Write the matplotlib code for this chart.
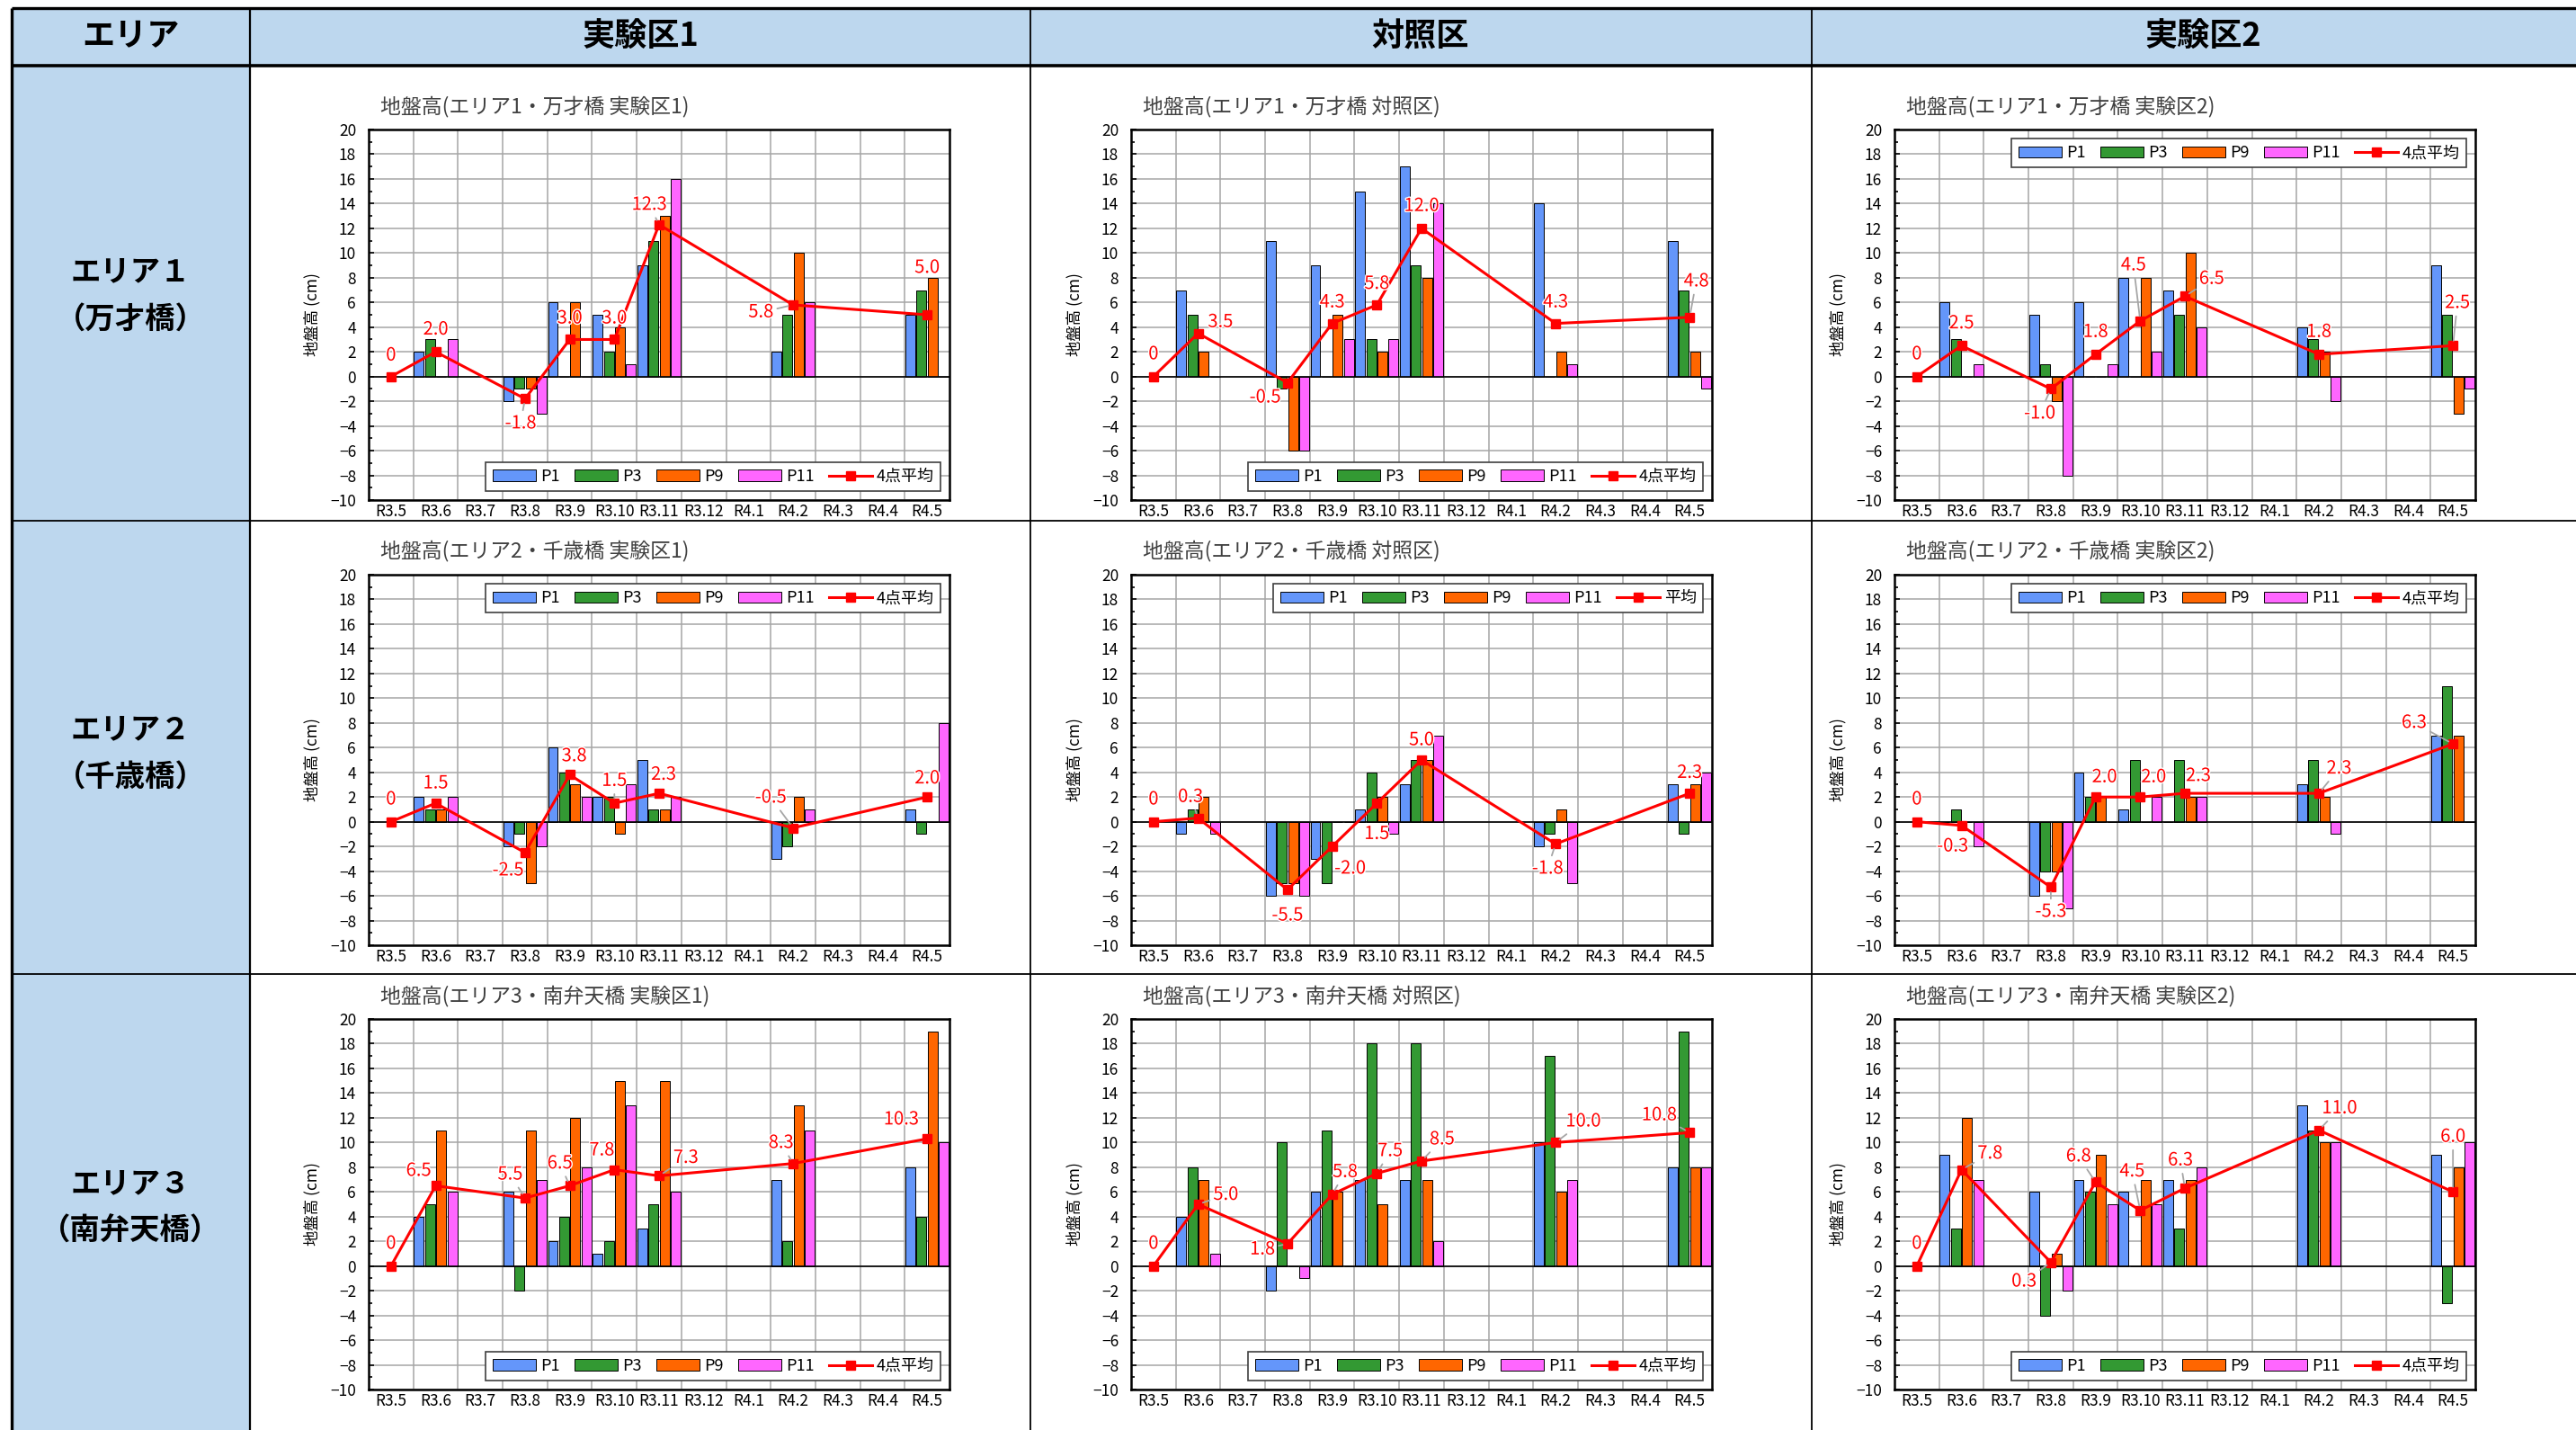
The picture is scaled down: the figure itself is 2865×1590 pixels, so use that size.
import numpy as np
import matplotlib
matplotlib.use("Agg")
import matplotlib.pyplot as plt
import matplotlib.patheffects as pe
from matplotlib.patches import Rectangle
from matplotlib.ticker import MultipleLocator

plt.rcParams['font.family'] = ['Noto Sans CJK JP', 'DejaVu Sans']

N = np.nan

months = ['R3.5', 'R3.6', 'R3.7', 'R3.8', 'R3.9', 'R3.10', 'R3.11',
          'R3.12', 'R4.1', 'R4.2', 'R4.3', 'R4.4', 'R4.5']
points = ['P1', 'P3', 'P9', 'P11']
point_colors = ['#6496FA', '#339933', '#FF6600', '#FF66FF']

areas = ['エリア１', 'エリア２', 'エリア３']
bridges = ['万才橋', '千歳橋', '南弁天橋']
area_short = ['エリア1', 'エリア2', 'エリア3']
plots = ['実験区1', '対照区', '実験区2']

# 地盤高 (cm) : P1, P3, P9, P11 の順
a1_exp1 = [[N, 2, N, -2, 6, 5, 9, N, N, 2, N, N, 5],
           [N, 3, N, -1, 0, 2, 11, N, N, 5, N, N, 7],
           [N, 0, N, -1, 6, 4, 13, N, N, 10, N, N, 8],
           [N, 3, N, -3, 0, 1, 16, N, N, 6, N, N, 0]]
a1_exp1_avg = [0, 2.0, N, -1.8, 3.0, 3.0, 12.3, N, N, 5.8, N, N, 5.0]

a1_ctrl = [[N, 7, N, 11, 9, 15, 17, N, N, 14, N, N, 11],
           [N, 5, N, -1, 0, 3, 9, N, N, 0, N, N, 7],
           [N, 2, N, -6, 5, 2, 8, N, N, 2, N, N, 2],
           [N, 0, N, -6, 3, 3, 14, N, N, 1, N, N, -1]]
a1_ctrl_avg = [0, 3.5, N, -0.5, 4.3, 5.8, 12.0, N, N, 4.3, N, N, 4.8]

a1_exp2 = [[N, 6, N, 5, 6, 8, 7, N, N, 4, N, N, 9],
           [N, 3, N, 1, 0, 0, 5, N, N, 3, N, N, 5],
           [N, 0, N, -2, 0, 8, 10, N, N, 2, N, N, -3],
           [N, 1, N, -8, 1, 2, 4, N, N, -2, N, N, -1]]
a1_exp2_avg = [0, 2.5, N, -1.0, 1.8, 4.5, 6.5, N, N, 1.8, N, N, 2.5]

a2_exp1 = [[N, 2, N, -2, 6, 2, 5, N, N, -3, N, N, 1],
           [N, 1, N, -1, 4, 2, 1, N, N, -2, N, N, -1],
           [N, 1, N, -5, 3, -1, 1, N, N, 2, N, N, 0],
           [N, 2, N, -2, 2, 3, 2, N, N, 1, N, N, 8]]
a2_exp1_avg = [0, 1.5, N, -2.5, 3.8, 1.5, 2.3, N, N, -0.5, N, N, 2.0]

a2_ctrl = [[N, -1, N, -6, -3, 1, 3, N, N, -2, N, N, 3],
           [N, 1, N, -5, -5, 4, 5, N, N, -1, N, N, -1],
           [N, 2, N, -5, 0, 2, 5, N, N, 1, N, N, 3],
           [N, -1, N, -6, 0, -1, 7, N, N, -5, N, N, 4]]
a2_ctrl_avg = [0, 0.3, N, -5.5, -2.0, 1.5, 5.0, N, N, -1.8, N, N, 2.3]

a2_exp2 = [[N, 0, N, -6, 4, 1, 0, N, N, 3, N, N, 7],
           [N, 1, N, -4, 2, 5, 5, N, N, 5, N, N, 11],
           [N, 0, N, -4, 2, 0, 2, N, N, 2, N, N, 7],
           [N, -2, N, -7, 0, 2, 2, N, N, -1, N, N, 0]]
a2_exp2_avg = [0, -0.3, N, -5.3, 2.0, 2.0, 2.3, N, N, 2.3, N, N, 6.3]

a3_exp1 = [[N, 4, N, 6, 2, 1, 3, N, N, 7, N, N, 8],
           [N, 5, N, -2, 4, 2, 5, N, N, 2, N, N, 4],
           [N, 11, N, 11, 12, 15, 15, N, N, 13, N, N, 19],
           [N, 6, N, 7, 8, 13, 6, N, N, 11, N, N, 10]]
a3_exp1_avg = [0, 6.5, N, 5.5, 6.5, 7.8, 7.3, N, N, 8.3, N, N, 10.3]

a3_ctrl = [[N, 4, N, -2, 6, 7, 7, N, N, 10, N, N, 8],
           [N, 8, N, 10, 11, 18, 18, N, N, 17, N, N, 19],
           [N, 7, N, 0, 6, 5, 7, N, N, 6, N, N, 8],
           [N, 1, N, -1, 0, 0, 2, N, N, 7, N, N, 8]]
a3_ctrl_avg = [0, 5.0, N, 1.8, 5.8, 7.5, 8.5, N, N, 10.0, N, N, 10.8]

a3_exp2 = [[N, 9, N, 6, 7, 6, 7, N, N, 13, N, N, 9],
           [N, 3, N, -4, 6, 0, 3, N, N, 11, N, N, -3],
           [N, 12, N, 1, 9, 7, 7, N, N, 10, N, N, 8],
           [N, 7, N, -2, 5, 5, 8, N, N, 10, N, N, 10]]
a3_exp2_avg = [0, 7.8, N, 0.3, 6.8, 4.5, 6.3, N, N, 11.0, N, N, 6.0]

panel_bars = [[a1_exp1, a1_ctrl, a1_exp2],
              [a2_exp1, a2_ctrl, a2_exp2],
              [a3_exp1, a3_ctrl, a3_exp2]]
panel_avgs = [[a1_exp1_avg, a1_ctrl_avg, a1_exp2_avg],
              [a2_exp1_avg, a2_ctrl_avg, a2_exp2_avg],
              [a3_exp1_avg, a3_ctrl_avg, a3_exp2_avg]]
avg_names = [['4点平均', '4点平均', '4点平均'],
             ['4点平均', '平均', '4点平均'],
             ['4点平均', '4点平均', '4点平均']]

# ラベル位置 (横ずれ[区分], 縦ずれ[cm], 引き出し線)
label_pos = [
    [[(0, 1.7, 0), (0, 1.8, 0), (-0.1, -2.0, 1), (0, 1.7, 0), (0, 1.7, 0),
      (-0.22, 1.6, 1), (-0.72, -0.6, 1), (0, 3.8, 0)],
     [(0, 1.8, 0), (0.5, 0.9, 0), (-0.5, -1.2, 0), (0, 1.7, 0), (0, 1.7, 0),
      (0, 1.8, 0), (0, 1.7, 0), (0.15, 2.9, 1)],
     [(0, 1.8, 0), (0, 1.8, 0), (-0.25, -2.0, 1), (0, 1.8, 0), (-0.15, 4.5, 1),
      (0.6, 1.4, 1), (0, 1.8, 0), (0.1, 3.45, 1)]],
    [[(0, 1.8, 0), (0, 1.6, 0), (-0.38, -1.45, 0), (0.1, 1.5, 0), (0, 1.8, 1),
      (0.1, 1.5, 0), (-0.5, 2.45, 1), (0, 1.5, 0)],
     [(0, 1.8, 0), (-0.17, 1.7, 1), (0, -2.1, 0), (0.4, -1.8, 0), (0, -2.5, 0),
      (0, 1.6, 0), (-0.18, -2.0, 1), (0, 1.65, 0)],
     [(0, 1.8, 0), (-0.2, -1.7, 0), (0, -2.0, 1), (0.2, 1.6, 0), (0.3, 1.6, 0),
      (0.3, 1.4, 0), (0.45, 2.0, 1), (-0.87, 1.7, 1)]],
    [[(0, 1.8, 0), (-0.38, 1.2, 0), (-0.33, 1.9, 1), (-0.22, 1.8, 1), (-0.28, 1.56, 0),
      (0.6, 1.45, 1), (-0.27, 1.66, 1), (-0.58, 1.56, 0)],
     [(0, 1.8, 0), (0.62, 0.76, 1), (-0.56, -0.46, 1), (0.29, 1.8, 1), (0.3, 1.8, 1),
      (0.46, 1.75, 1), (0.62, 1.7, 1), (-0.68, 1.4, 1)],
     [(0, 1.8, 0), (0.64, 1.3, 1), (-0.6, -1.56, 1), (-0.38, 2.07, 1), (-0.18, 3.15, 1),
      (-0.1, 2.25, 1), (0.46, 1.76, 1), (0, 4.45, 1)]],
]
legend_locs = [['lower right', 'lower right', 'upper right'],
               ['upper right', 'upper right', 'upper right'],
               ['lower right', 'lower right', 'lower right']]

W, H = 2865, 1590
fig = plt.figure(figsize=(W / 100, H / 100), dpi=100)

# 表の枠
bg = fig.add_axes([0, 0, 1, 1], zorder=0)
bg.set_xlim(0, W)
bg.set_ylim(H, 0)
bg.axis('off')
blue = '#BDD7EE'
col_x = [13, 278, 1146, 2015]
row_y = [9, 73, 579, 1083]
bg.add_patch(Rectangle((13, 9), W - 13, 64, color=blue, lw=0))
bg.add_patch(Rectangle((13, 73), 265, H - 73, color=blue, lw=0))
for x, lw in zip(col_x, [2.4, 1.6, 1.3, 1.3]):
    bg.plot([x, x], [9, H], color='black', lw=lw, solid_capstyle='butt')
for y, lw in zip(row_y, [2.4, 2.6, 1.3, 1.3]):
    bg.plot([13, W], [y, y], color='black', lw=lw, solid_capstyle='butt')

bg.text(145, 41, 'エリア', ha='center', va='center', fontsize=26, fontweight='bold')
for cx, name in zip([712, 1580, 2450], plots):
    bg.text(cx, 41, name, ha='center', va='center', fontsize=26, fontweight='bold')
for cy, area, bridge in zip([329, 838, 1343], areas, bridges):
    bg.text(145, cy - 26, area, ha='center', va='center', fontsize=24, fontweight='bold')
    bg.text(145, cy + 26, '（' + bridge + '）', ha='center', va='center',
            fontsize=24, fontweight='bold')

plot_left = [410, 1258, 2107]
plot_top = [144, 639, 1133]
PW, PH = 646, 412
x = np.arange(len(months))

for r in range(3):
    for c in range(3):
        ax = fig.add_axes([plot_left[c] / W, 1 - (plot_top[r] + PH) / H, PW / W, PH / H],
                          zorder=2)
        handles = []
        series = panel_bars[r][c]
        for k in range(4):
            vals = np.array(series[k], dtype=float)
            ok = ~np.isnan(vals)
            bars = ax.bar(x[ok] + (k - 1.5) * 0.25, vals[ok], width=0.22,
                          color=point_colors[k], edgecolor='black', linewidth=0.7,
                          label=points[k], zorder=3)
            handles.append(bars)
        ax.axhline(0, color='black', lw=1.2, zorder=4)

        avg = np.array(panel_avgs[r][c], dtype=float)
        ok = ~np.isnan(avg)
        line, = ax.plot(x[ok], avg[ok], color='#FF0000', lw=2.2, marker='s', ms=7,
                        label=avg_names[r][c], zorder=5)
        handles.append(line)

        for i, (dx, dy, lead) in zip(x[ok], label_pos[r][c]):
            v = avg[i]
            txt = '0' if v == 0 else f'{v:.1f}'
            arrow = dict(arrowstyle='-', color='#A6A6A6', lw=1.3,
                         shrinkA=1, shrinkB=4) if lead else None
            ax.annotate(txt, xy=(i, v), xytext=(i + dx, v + dy),
                        ha='center', va='center', color='#FF0000', fontsize=14.5,
                        zorder=6, arrowprops=arrow,
                        path_effects=[pe.withStroke(linewidth=2, foreground='white')])

        ax.set_xlim(-0.5, len(months) - 0.5)
        ax.set_ylim(-10, 20)
        ax.set_xticks(x)
        ax.set_xticklabels(months)
        ax.set_xticks(x[:-1] + 0.5, minor=True)
        ax.set_yticks(np.arange(-10, 21, 2))
        ax.yaxis.set_minor_locator(MultipleLocator(1))
        ax.grid(which='minor', axis='x', color='#A6A6A6', lw=1.1)
        ax.grid(which='major', axis='y', color='#A6A6A6', lw=1.1)
        ax.set_axisbelow(True)
        ax.tick_params(axis='x', which='both', length=0, labelsize=12.5, pad=3)
        ax.tick_params(axis='y', which='major', direction='in', length=4, width=1.2,
                       labelsize=12.5, pad=10)
        ax.tick_params(axis='y', which='minor', direction='in', length=3, width=1.2)
        for s in ax.spines.values():
            s.set_linewidth(1.8)
            s.set_color('black')

        ax.text(-63 / PW, 0.5, '地盤高 (cm)', transform=ax.transAxes, rotation=90,
                ha='center', va='center', fontsize=12.5)
        ax.text(13 / PW, 1 + 26 / PH,
                f'地盤高({area_short[r]}・{bridges[r]} {plots[c]})',
                transform=ax.transAxes, ha='left', va='center', fontsize=16.5,
                color='#404040')

        leg = ax.legend(handles, points + [avg_names[r][c]], loc=legend_locs[r][c],
                        ncol=5, fontsize=13, frameon=True,
                        fancybox=False, edgecolor='#404040', framealpha=1,
                        handlelength=2.7, handleheight=0.7, handletextpad=0.25,
                        columnspacing=0.9, borderpad=0.4, borderaxespad=0.55)
        leg.get_frame().set_linewidth(1.2)
        leg.set_zorder(10)

fig.savefig('out.png', dpi=100, facecolor='white')
